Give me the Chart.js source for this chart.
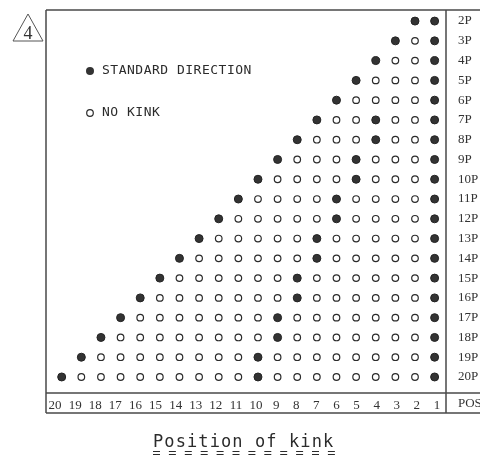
<!DOCTYPE html>
<html>
<head>
<meta charset="utf-8">
<script src="https://cdn.jsdelivr.net/npm/chart.js@4.4.1/dist/chart.umd.min.js"></script>
<style>
  html, body { margin: 0; padding: 0; background: #fff; }
  #wrap { width: 480px; height: 463px; }
</style>
</head>
<body>
<div id="wrap"><canvas id="c" width="480" height="463"></canvas></div>
<script>
// ---- data ----
const rowValues = [2, 3, 4, 5, 6, 7, 8, 9, 10, 11, 12, 13, 14, 15, 16, 17, 18, 19, 20];
const rowLabels = ['2P', '3P', '4P', '5P', '6P', '7P', '8P', '9P', '10P', '11P', '12P', '13P', '14P', '15P', '16P', '17P', '18P', '19P', '20P'];
const positionTicks = [20, 19, 18, 17, 16, 15, 14, 13, 12, 11, 10, 9, 8, 7, 6, 5, 4, 3, 2, 1];
// each row, read left to right (position n ... 1): S = standard direction (filled), O = no kink (open)
const kinkPatterns = [
  'SS',
  'SOS',
  'SOOS',
  'SOOOS',
  'SOOOOS',
  'SOOSOOS',
  'SOOOSOOS',
  'SOOOSOOOS',
  'SOOOOSOOOS',
  'SOOOOSOOOOS',
  'SOOOOOSOOOOS',
  'SOOOOOSOOOOOS',
  'SOOOOOOSOOOOOS',
  'SOOOOOOSOOOOOOS',
  'SOOOOOOOSOOOOOOS',
  'SOOOOOOOSOOOOOOOS',
  'SOOOOOOOOSOOOOOOOS',
  'SOOOOOOOOSOOOOOOOOS',
  'SOOOOOOOOOSOOOOOOOOS'
];
const legendLabels = ['STANDARD DIRECTION', 'NO KINK'];
const xTitle = 'Position of kink';
const cornerMark = '4';
const posLabel = 'POS';

// ---- build point lists from the patterns ----
const standardPts = [];
const noKinkPts = [];
kinkPatterns.forEach((p, i) => {
  const row = rowValues[i];
  for (let j = 0; j < p.length; j++) {
    const pos = p.length - j;
    (p[j] === 'S' ? standardPts : noKinkPts).push({ x: pos, y: row });
  }
});

const INK = '#2b2b2b';
const LINE = '#4a4a4a';

const decorPlugin = {
  id: 'decor',
  beforeDatasetsDraw(chart) {
    const ctx = chart.ctx;
    const ca = chart.chartArea;
    const xt = chart.scales.xt;
    const W = chart.width;
    ctx.save();
    ctx.strokeStyle = LINE;
    ctx.lineWidth = 1.5;
    ctx.beginPath();
    ctx.moveTo(ca.left, ca.top); ctx.lineTo(W, ca.top);
    ctx.moveTo(ca.left, ca.top); ctx.lineTo(ca.left, xt.bottom);
    ctx.moveTo(ca.left, xt.bottom); ctx.lineTo(W, xt.bottom);
    ctx.moveTo(ca.left, ca.bottom); ctx.lineTo(W, ca.bottom);
    ctx.moveTo(ca.right, ca.top); ctx.lineTo(ca.right, xt.bottom);
    ctx.stroke();

    // POS label in the tick strip
    ctx.fillStyle = '#333';
    ctx.font = '13px "Liberation Serif", serif';
    ctx.textAlign = 'left';
    ctx.textBaseline = 'middle';
    ctx.fillText(posLabel, ca.right + 12, (ca.bottom + xt.bottom) / 2 + 1);

    // corner triangle with number
    ctx.lineWidth = 1;
    ctx.strokeStyle = '#555';
    ctx.beginPath();
    ctx.moveTo(13, 41); ctx.lineTo(43, 41); ctx.lineTo(28, 14); ctx.closePath();
    ctx.stroke();
    ctx.fillStyle = '#333';
    ctx.font = '18px "Liberation Serif", serif';
    ctx.textAlign = 'center';
    ctx.textBaseline = 'alphabetic';
    ctx.fillText(cornerMark, 28, 39);

    // legend inside plot
    const lx = 90, ly = [71, 113];
    ctx.beginPath();
    ctx.arc(lx, ly[0], 4, 0, Math.PI * 2);
    ctx.fillStyle = '#333'; ctx.fill();
    ctx.beginPath();
    ctx.arc(lx, ly[1], 3.3, 0, Math.PI * 2);
    ctx.fillStyle = '#fff'; ctx.fill();
    ctx.strokeStyle = INK; ctx.lineWidth = 1.2; ctx.stroke();
    ctx.fillStyle = INK;
    ctx.font = '13px "DejaVu Sans Mono", monospace';
    ctx.letterSpacing = '0.5px';
    ctx.textAlign = 'left';
    ctx.textBaseline = 'middle';
    ctx.fillText(legendLabels[0], 102, ly[0]);
    ctx.fillText(legendLabels[1], 102, ly[1]);

    // bottom title with dashed double underline
    ctx.font = '17px "DejaVu Sans Mono", monospace';
    ctx.letterSpacing = '1.1px';
    ctx.textAlign = 'left';
    ctx.textBaseline = 'alphabetic';
    ctx.fillText(xTitle, 153, 447);
    ctx.letterSpacing = '0px';
    ctx.strokeStyle = INK;
    ctx.lineWidth = 1;
    ctx.beginPath();
    for (let k = 0; k < 12; k++) {
      const x0 = 153 + k * 15.9;
      ctx.moveTo(x0, 451.5); ctx.lineTo(x0 + 7, 451.5);
      ctx.moveTo(x0, 454.5); ctx.lineTo(x0 + 7, 454.5);
    }
    ctx.stroke();
    ctx.restore();
  }
};

new Chart(document.getElementById('c'), {
  type: 'scatter',
  data: {
    datasets: [
      {
        label: legendLabels[0],
        data: standardPts,
        xAxisID: 'x', yAxisID: 'y',
        pointRadius: 4,
        pointBackgroundColor: '#333',
        pointBorderColor: '#222',
        pointBorderWidth: 1,
        showLine: false,
        clip: false
      },
      {
        label: legendLabels[1],
        data: noKinkPts,
        xAxisID: 'x', yAxisID: 'y',
        pointRadius: 3.3,
        pointBackgroundColor: '#fff',
        pointBorderColor: INK,
        pointBorderWidth: 1.2,
        showLine: false,
        clip: false
      }
    ]
  },
  options: {
    responsive: false,
    animation: false,
    devicePixelRatio: 1,
    events: [],
    layout: { padding: { left: 46, top: 10, right: 0, bottom: 50 } },
    plugins: { legend: { display: false }, tooltip: { enabled: false }, title: { display: false } },
    scales: {
      x: {
        type: 'linear', display: false, reverse: true, min: 0.42, max: 20.8
      },
      xt: {
        type: 'linear', axis: 'x', position: 'bottom', reverse: true, min: 0.55, max: 20.45,
        afterBuildTicks: s => { s.ticks = positionTicks.map(v => ({ value: v })); },
        afterFit: s => { s.height = 20; s.paddingLeft = 0; s.paddingRight = 0; },
        grid: { display: false, drawTicks: false },
        border: { display: false },
        ticks: {
          autoSkip: false, maxRotation: 0, minRotation: 0, padding: 5,
          color: '#333',
          font: { family: '"Liberation Serif", serif', size: 13 },
          callback: v => String(v)
        }
      },
      y: {
        type: 'linear', position: 'right', reverse: true, min: 1.44, max: 20.81,
        afterBuildTicks: s => { s.ticks = rowValues.map(v => ({ value: v })); },
        afterFit: s => { s.width = 34; s.paddingTop = 0; s.paddingBottom = 0; },
        grid: { display: false, drawTicks: false },
        border: { display: false },
        ticks: {
          autoSkip: false, padding: 12,
          color: '#333',
          font: { family: '"Liberation Serif", serif', size: 13 },
          callback: v => rowLabels[rowValues.indexOf(v)]
        }
      }
    }
  },
  plugins: [decorPlugin]
});
</script>
</body>
</html>
